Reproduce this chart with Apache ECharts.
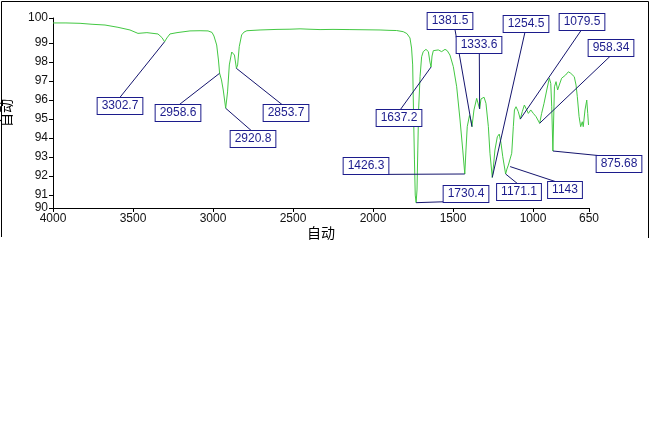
<!DOCTYPE html>
<html>
<head>
<meta charset="utf-8">
<script src="https://cdn.jsdelivr.net/npm/echarts@6/dist/echarts.min.js"></script>
<style>
html,body{margin:0;padding:0;background:#fff;}
#chart{width:659px;height:445px;}
</style>
</head>
<body>
<div id="chart"></div>
<script>
// ---- data ----
var wavenumbers = [4000,3919,3831,3819,3756,3675,3594,3519,3469,3413,3375,3344,3319,3302.7,3288,3269,3225,3144,3081,3031,3006,2994,2977,2966,2958.6,2947,2936,2920.8,2909,2898,2883,2875,2866,2853.7,2846,2836,2821,2806,2788,2706,2600,2519,2456,2400,2331,2250,2144,2050,1956,1900,1852,1811,1788,1769,1759,1752,1747,1741,1736,1730.4,1725,1720,1715,1706,1696,1686,1669,1654,1644,1637.2,1631,1623,1592,1571,1550,1536,1519,1498,1477,1456,1439,1426.3,1419,1411,1397,1387,1381.5,1369,1352,1344,1333.6,1325,1306,1294,1279,1269,1254.5,1247,1238,1223,1211,1200,1189,1171.1,1163,1154,1143,1133,1123,1116,1106,1092,1079.5,1067,1054,1044,1029,1014,998,981,958.34,946,931,914,898,889,883,875.68,871,866,856,846,836,821,811,796,779,764,752,742,731,723,712,702,692,686,675,664,658,653];
var transmittance = [100.06,100.06,100.04,100.00,99.99,99.95,99.83,99.69,99.51,99.55,99.51,99.48,99.29,99.07,99.27,99.48,99.55,99.64,99.65,99.64,99.56,99.37,98.90,98.11,97.41,97.06,96.53,95.57,96.43,97.85,98.53,98.55,98.37,97.67,97.85,98.81,99.43,99.58,99.65,99.69,99.72,99.73,99.75,99.73,99.71,99.72,99.71,99.70,99.69,99.67,99.66,99.60,99.50,99.27,98.74,97.85,95.48,92.85,91.00,90.60,91.27,93.37,95.48,97.23,98.28,98.55,98.67,98.55,98.00,97.74,98.32,98.60,98.64,98.55,98.67,98.60,98.37,97.76,96.70,94.95,93.37,92.11,93.37,94.60,95.19,94.90,94.60,95.48,96.09,96.00,95.53,96.06,96.15,95.83,94.60,93.20,91.93,92.53,93.37,94.07,94.21,93.73,93.02,92.11,92.37,92.58,92.50,93.20,94.60,95.48,95.65,95.39,95.00,95.39,95.74,95.83,95.30,95.48,95.30,95.13,94.78,95.30,95.83,96.53,97.15,96.88,95.65,93.32,94.95,96.70,96.97,96.53,96.79,97.15,97.06,97.32,97.49,97.41,97.32,97.23,96.79,96.18,95.13,94.60,94.86,94.60,95.48,96.00,95.30,94.69];

var peakLabels = ['3302.7','2958.6','2920.8','2853.7','1730.4','1637.2','1426.3','1381.5','1333.6','1254.5','1171.1','1143','1079.5','958.34','875.68'];
var peakWavenumbers = [3302.7,2958.6,2920.8,2853.7,1730.4,1637.2,1426.3,1381.5,1333.6,1254.5,1171.1,1143,1079.5,958.34,875.68];
var peakValues = [99.07,97.41,95.57,97.67,90.60,97.74,92.11,94.60,95.53,91.93,92.11,92.50,95.00,94.78,93.32];

var xTickValues = [4000,3500,3000,2500,2000,1500,1000,650];
var xTickLabels = ['4000','3500','3000','2500','2000','1500','1000','650'];
var yTickValues = [90.32,91,92,93,94,95,96,97,98,99,100.32];
var yTickLabels = ['90','91','92','93','94','95','96','97','98','99','100'];

var xAxisName = '自动';
var yAxisName = '自动';

// ---- layout (pixel offsets of each annotation box centre and leader-line end, relative to its peak) ----
var labelLayoutOffsets = [
  [-45, 64, -44.6, 55.6],
  [-41.6, 39.8, -41.3, 32.1],
  [27.6, 30.5, 26, 22.7],
  [49.6, 44.9, 46.9, 37.2],
  [50.2, -9, 36.9, -1.2],
  [-32.2, 51.3, -31, 43],
  [-99, -7.9, -76.5, 0.4],
  [-22.3, -105.3, -17, -97.3],
  [-0.9, -63.8, -0.3, -55.8],
  [33.5, -153.4, 32.7, -145.3],
  [13.6, 18.4, 13.4, 10.9],
  [54.4, 23, 45.9, 15.2],
  [61.4, -97.2, 61.4, -89.5],
  [71.1, -75.3, 70.8, -67.3],
  [65.8, 13.1, 53.1, 5.3]
];

var NAVY = '#1c1c8c';
var LEAD = '#15156e';

var chart = echarts.init(document.getElementById('chart'), null, {renderer: 'canvas'});

function lookup(values, labels, v) {
  for (var i = 0; i < values.length; i++) {
    if (Math.abs(values[i] - v) < 1e-6) return labels[i];
  }
  return '';
}

var option = {
  animation: false,
  backgroundColor: '#ffffff',
  grid: {left: 53, right: 70, top: 18, bottom: 237, containLabel: false, outerBoundsMode: 'none'},
  xAxis: {
    type: 'value',
    min: 650,
    max: 4000,
    inverse: true,
    name: xAxisName,
    nameLocation: 'middle',
    nameGap: 16,
    nameTextStyle: {fontFamily: 'Noto Sans CJK SC', fontSize: 14, color: '#000'},
    axisLine: {show: true, onZero: false, lineStyle: {color: '#000', width: 1}},
    axisTick: {show: true, length: 4, inside: false, customValues: xTickValues, lineStyle: {color: '#000'}},
    axisLabel: {
      show: true, customValues: xTickValues, margin: 5,
      fontFamily: 'Liberation Sans', fontSize: 12, color: '#111',
      formatter: function (v) { return lookup(xTickValues, xTickLabels, v); }
    },
    splitLine: {show: false}
  },
  yAxis: {
    type: 'value',
    min: 90.32,
    max: 100.32,
    name: yAxisName,
    nameLocation: 'middle',
    nameRotate: 90,
    nameGap: 40,
    nameTextStyle: {fontFamily: 'Noto Sans CJK SC', fontSize: 14, color: '#000'},
    axisLine: {show: true, onZero: false, lineStyle: {color: '#000', width: 1}},
    axisTick: {show: true, length: 4, inside: false, customValues: yTickValues, lineStyle: {color: '#000'}},
    axisLabel: {
      show: true, customValues: yTickValues, margin: 5,
      fontFamily: 'Liberation Sans', fontSize: 12, color: '#111',
      formatter: function (v) { return lookup(yTickValues, yTickLabels, v); }
    },
    splitLine: {show: false}
  },
  graphic: [{
    type: 'polyline',
    silent: true,
    shape: {points: [[1.5, 237], [1.5, 1.5], [648.5, 1.5], [648.5, 238]]},
    style: {stroke: '#000', lineWidth: 1, fill: null}
  }],
  series: [
    {
      type: 'line',
      data: wavenumbers.map(function (w, i) { return [w, transmittance[i]]; }),
      showSymbol: false,
      symbol: 'none',
      smooth: false,
      clip: true,
      lineStyle: {color: '#43c843', width: 1},
      z: 2
    },
    {
      type: 'custom',
      clip: false,
      z: 5,
      data: peakWavenumbers.map(function (w, i) { return [w, peakValues[i]]; }),
      renderItem: function (params, api) {
        var i = params.dataIndex;
        var p = api.coord([api.value(0), api.value(1)]);
        var o = labelLayoutOffsets[i];
        return {
          type: 'group',
          children: [
            {
              type: 'line',
              shape: {x1: p[0], y1: p[1], x2: p[0] + o[2], y2: p[1] + o[3]},
              style: {stroke: LEAD, lineWidth: 1}
            },
            {
              type: 'text',
              x: Math.round(p[0] + o[0]),
              y: Math.round(p[1] + o[1]),
              style: {
                text: peakLabels[i],
                align: 'center',
                verticalAlign: 'middle',
                fontFamily: 'Liberation Sans',
                fontSize: 12,
                lineHeight: 13,
                fill: NAVY,
                backgroundColor: '#ffffff',
                borderColor: NAVY,
                borderWidth: 1,
                padding: [2, 4, 1, 4]
              }
            }
          ]
        };
      }
    }
  ]
};
chart.setOption(option);
</script>
</body>
</html>
